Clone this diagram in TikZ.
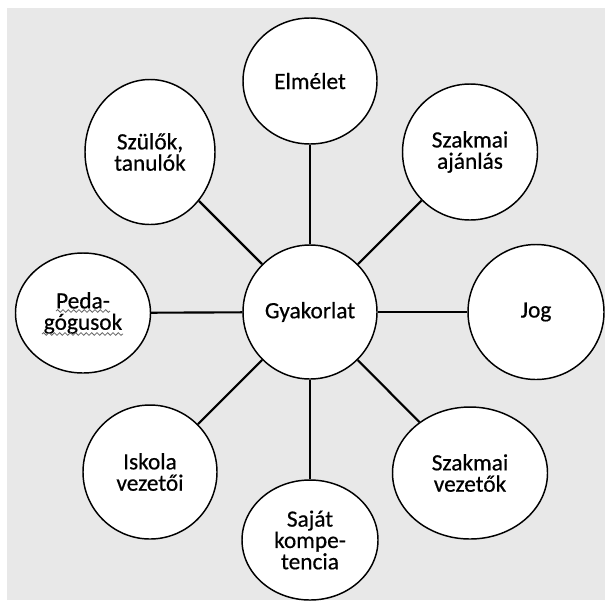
\documentclass[tikz,border=0pt]{standalone}
\usepackage{fontspec}
\setmainfont{Carlito}
\newfontfamily\labelfont{Carlito}[FakeBold=0.5]
\usepackage{tikz}
\usetikzlibrary{shapes.geometric,decorations.pathmorphing}

\begin{document}
\begin{tikzpicture}[
        x=0.75pt, y=-0.75pt,
        bubble/.style 2 args={
            ellipse, draw, line width=1.1pt, fill=white, inner sep=0pt,
            minimum width=#1*0.75pt, minimum height=#2*0.75pt,
            align=center, font=\labelfont\fontsize{17.5pt}{16pt}\selectfont
        },
        link/.style={line width=1.6pt},
        squiggle/.style={decorate, decoration={snake, segment length=4, amplitude=1},
            line width=0.6pt, black!60}
    ]
    % canvas
    \useasboundingbox (0,0) rectangle (605,604);
    \fill[black!9] (7,8) rectangle (605,600);

    % hub
    \node[bubble={134}{134}] (hub) at (310,312) {Gyakorlat};

    % surrounding bubbles
    \node[bubble={134}{126}] (elm) at (310,81) {Elmélet};
    \node[bubble={135}{136}] (ajan) at (470,152) {Szakmai\\ajánlás};
    \node[bubble={136}{135}] (jog) at (536,312) {Jog};
    \node[bubble={155}{132}] (vez) at (470,473) {Szakmai\\vezetők};
    \node[bubble={136}{120}] (komp) at (310,540) {Saját\\kompe-\\tencia};
    \node[bubble={134}{134}] (isk) at (150,472) {Iskola\\vezetői};
    \node[bubble={135}{120}] (peda) at (83,313) {Peda-\\gógusok};
    \node[bubble={130}{145}] (szul) at (150,152) {Szülők,\\tanulók};

    % spell-check marks
    \draw[squiggle] ([shift={(-27,-2)}]peda.center) -- ([shift={(27,-2)}]peda.center);
    \draw[squiggle] ([shift={(-41,21)}]peda.center) -- ([shift={(40,21)}]peda.center);

    % spokes
    \foreach \n in {elm,ajan,jog,vez,komp,isk,peda,szul}
        \draw[link] (hub) -- (\n);
\end{tikzpicture}
\end{document}
